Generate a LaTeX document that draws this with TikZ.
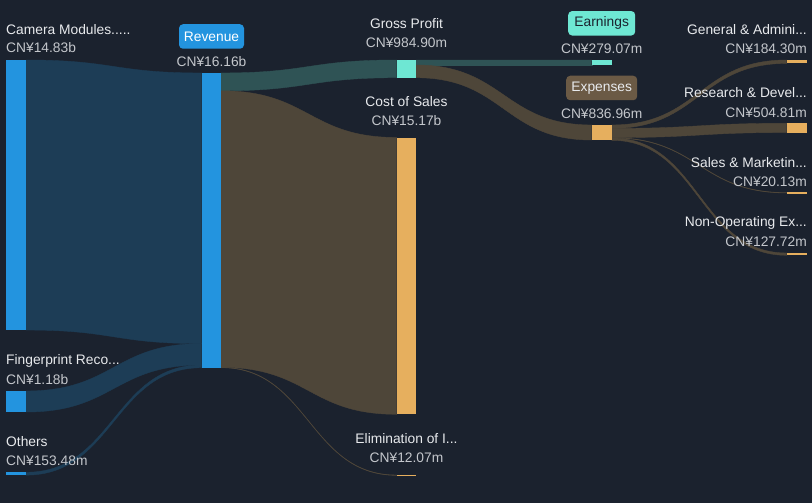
\documentclass[tikz,border=0pt]{standalone}
\usepackage{fontspec}
\setmainfont{Liberation Sans}
\usetikzlibrary{calc}
\definecolor{bgnavy}{HTML}{1B222E}
\definecolor{barblue}{HTML}{2394DF}
\definecolor{barteal}{HTML}{6EE7D3}
\definecolor{barorange}{HTML}{E6AF5E}
\definecolor{flowblue}{HTML}{1D3D56}
\definecolor{flowteal}{HTML}{2F5355}
\definecolor{flowbrown}{HTML}{4E4639}
\definecolor{tagbrown}{HTML}{6B5A45}
\definecolor{namewhite}{HTML}{E8EAED}
\definecolor{valgrey}{HTML}{C4C7CC}
% band between two bars: (x1:top1:bottom1)(x2:top2:bottom2)
\def\flow[#1](#2:#3:#4)(#5:#6:#7){\filldraw[#1, line width=0.4pt] (#2,#3) .. controls ({(#2+#5)/2},#3) and ({(#2+#5)/2},#6) .. (#5,#6) -- (#5,#7) .. controls ({(#2+#5)/2},#7) and ({(#2+#5)/2},#4) .. (#2,#4) -- cycle;}

\begin{document}
\begin{tikzpicture}[x=1pt, y=-1pt,
	lbl/.style={text=namewhite, font=\fontsize{13.8}{16}\selectfont, inner sep=0pt},
	val/.style={text=valgrey, font=\fontsize{13.8}{16}\selectfont, inner sep=0pt},
	tag/.style={rounded corners=4pt, minimum height=24.5pt, font=\fontsize{13.8}{16}\selectfont, inner sep=0pt}]
	%%%%% START %%%%%
	
	\fill[bgnavy] (0, 0) rectangle (812, 503);
	\useasboundingbox (0, 0) rectangle (812, 503);
	
	% bands into revenue
	\flow[flowblue](26:60:330)(201.7:73:343.6)
	\flow[flowblue](26:391:412)(201.7:343.6:365)
	\flow[flowblue](26:472.3:475.1)(201.7:365:367.7)
	
	% bands out of revenue
	\flow[flowteal](221:73:90.8)(396.7:60:77.7)
	\flow[flowbrown](221:90.8:367.3)(396.7:137.5:414.3)
	\flow[flowbrown](221:367.3:367.7)(396.7:475:475.4)
	
	% bands out of gross profit
	\flow[flowteal](416:60:65)(591.7:60:65)
	\flow[flowbrown](416:65:77.7)(591.7:125:140)
	
	% bands out of expenses
	\flow[flowbrown](611.7:125:128.4)(786.7:60:63.4)
	\flow[flowbrown](611.7:128.4:137.6)(786.7:123.3:132.5)
	\flow[flowbrown](611.7:137.6:138)(786.7:192.6:193)
	\flow[flowbrown](611.7:138:140.3)(786.7:253:255.3)
	
	% bars
	\fill[barblue] (6, 60) rectangle (26, 330);
	\fill[barblue] (6, 391) rectangle (26, 412);
	\fill[barblue] (6, 472.3) rectangle (26, 475.1);
	\fill[barblue] (201.7, 73) rectangle (221, 367.7);
	\fill[barteal] (396.7, 60) rectangle (416, 77.7);
	\fill[barorange] (396.7, 137.5) rectangle (416, 414.3);
	\fill[barorange] (396.7, 474.7) rectangle (416, 476);
	\fill[barteal] (591.7, 60) rectangle (611.7, 65);
	\fill[barorange] (591.7, 125) rectangle (611.7, 140);
	\fill[barorange] (786.7, 60) rectangle (806.7, 63.4);
	\fill[barorange] (786.7, 123.3) rectangle (806.7, 132.5);
	\fill[barorange] (786.7, 192.2) rectangle (806.7, 193.5);
	\fill[barorange] (786.7, 253) rectangle (806.7, 255.3);
	
	% left labels
	\node[lbl, anchor=west] (camera) at (6, 29.5) {Camera Modules.....};
	\node[val, anchor=west] (cameraval) at (6, 47.5) {CN¥14.83b};
	\node[lbl, anchor=west] (finger) at (6, 360.5) {Fingerprint Reco...};
	\node[val, anchor=west] (fingerval) at (6, 379.5) {CN¥1.18b};
	\node[lbl, anchor=west] (others) at (6, 441.5) {Others};
	\node[val, anchor=west] (othersval) at (6, 460.5) {CN¥153.48m};
	
	% middle labels
	\node[tag, fill=barblue, text=white, minimum width=65pt] (revenue) at (211.5, 36.5) {Revenue};
	\node[val] (revenueval) at (211.5, 61.5) {CN¥16.16b};
	\node[lbl] (gross) at (406.5, 23.5) {Gross Profit};
	\node[val] (grossval) at (406.5, 42.5) {CN¥984.90m};
	\node[lbl] (cost) at (406.5, 101.5) {Cost of Sales};
	\node[val] (costval) at (406.5, 120.5) {CN¥15.17b};
	\node[lbl] (elim) at (406.5, 438.5) {Elimination of I...};
	\node[val] (elimval) at (406.5, 457.5) {CN¥12.07m};
	\node[tag, fill=barteal, text=bgnavy, minimum width=67pt] (earnings) at (601.7, 23.3) {Earnings};
	\node[val] (earningsval) at (601.7, 48.5) {CN¥279.07m};
	\node[tag, fill=tagbrown, text=namewhite, minimum width=71pt] (expenses) at (601.7, 88) {Expenses};
	\node[val] (expensesval) at (601.7, 113.5) {CN¥836.96m};
	
	% right labels
	\node[lbl, anchor=east] (general) at (807, 29.5) {General \& Admini...};
	\node[val, anchor=east] (generalval) at (807, 48.5) {CN¥184.30m};
	\node[lbl, anchor=east] (research) at (807, 92.5) {Research \& Devel...};
	\node[val, anchor=east] (researchval) at (807, 112.5) {CN¥504.81m};
	\node[lbl, anchor=east] (sales) at (807, 162.5) {Sales \& Marketin...};
	\node[val, anchor=east] (salesval) at (807, 181.5) {CN¥20.13m};
	\node[lbl, anchor=east] (nonop) at (807, 222.5) {Non-Operating Ex...};
	\node[val, anchor=east] (nonopval) at (807, 241.5) {CN¥127.72m};
	
	%%%%% END %%%%%
\end{tikzpicture}
\end{document}
